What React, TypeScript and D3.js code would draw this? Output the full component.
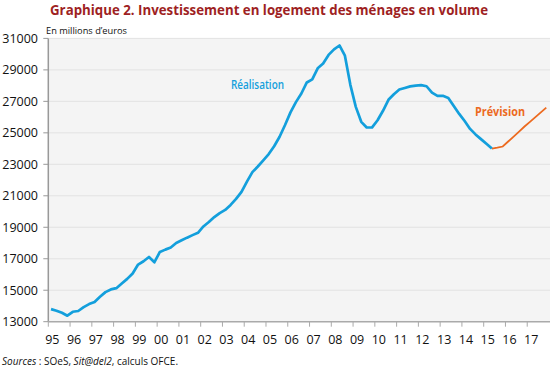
import React, { useEffect, useRef } from 'react';
import * as d3 from 'd3';

// quarterly volumes, millions of euros
const realisation = [
  13800, 13700, 13570, 13380, // 1995
  13630, 13680, 13930, 14120, // 1996
  14250, 14580, 14880, 15050, // 1997
  15130, 15430, 15720, 16060, // 1998
  16630, 16840, 17110, 16780, // 1999
  17430, 17580, 17710, 18000, // 2000
  18170, 18340, 18500, 18650, // 2001
  19050, 19330, 19650, 19900, // 2002
  20100, 20420, 20800, 21250, // 2003
  21900, 22500, 22860, 23250, // 2004
  23650, 24150, 24750, 25500, // 2005
  26300, 26950, 27500, 28200, // 2006
  28400, 29100, 29400, 29950, // 2007
  30300, 30550, 29900, 28050, // 2008
  26650, 25700, 25340, 25350, // 2009
  25800, 26400, 27100, 27450, // 2010
  27750, 27850, 27950, 28000, // 2011
  28030, 27960, 27550, 27350, // 2012
  27350, 27220, 26700, 26200, // 2013
  25750, 25250, 24900, 24600, // 2014
  24300, 24000, // 2015
];
const prevision = [24000, 24060, 24130, 24450, 24760, 25080, 25400, 25700, 26000, 26300, 26600];

const realisationStart = 1995; // Q1 1995
const previsionStart = 2015.25; // Q2 2015
const yearLabels = ['95', '96', '97', '98', '99', '00', '01', '02', '03', '04', '05', '06',
  '07', '08', '09', '10', '11', '12', '13', '14', '15', '16', '17'];
const firstYear = 1995;
const yTicks = [13000, 15000, 17000, 19000, 21000, 23000, 25000, 27000, 29000, 31000];

const FONT = "'Open Sans', 'DejaVu Sans', sans-serif";

const App = () => {
  const ref = useRef<SVGSVGElement | null>(null);

  useEffect(() => {
    const svg = d3.select(ref.current);
    svg.selectAll('*').remove();

    const left = 48.3, right = 549, top = 38.4, bottom = 321.7;
    const x = d3.scaleLinear().domain([1995, 2018]).range([left, right]);
    const y = d3.scaleLinear().domain([13000, 31000]).range([bottom, top]);

    // title
    svg
      .append('text')
      .attr('x', 269)
      .attr('y', 15)
      .attr('text-anchor', 'middle')
      .attr('font-family', FONT)
      .attr('font-weight', 700)
      .attr('font-size', 14)
      .attr('fill', '#9e1f23')
      .attr('textLength', 438)
      .attr('lengthAdjust', 'spacingAndGlyphs')
      .text('Graphique 2. Investissement en logement des ménages en volume');

    svg
      .append('text')
      .attr('x', 46)
      .attr('y', 34)
      .attr('font-family', FONT)
      .attr('font-size', 9.5)
      .attr('fill', '#111')
      .attr('textLength', 81)
      .attr('lengthAdjust', 'spacingAndGlyphs')
      .text('En millions d\u2019euros');

    // plot background
    svg
      .append('rect')
      .attr('x', left)
      .attr('y', top)
      .attr('width', 550 - left)
      .attr('height', bottom - top)
      .attr('fill', '#f4f4f4');

    // grid
    svg
      .append('g')
      .selectAll('line')
      .data(yTicks.slice(1))
      .join('line')
      .attr('x1', left)
      .attr('x2', 550)
      .attr('y1', (d) => y(d))
      .attr('y2', (d) => y(d))
      .attr('stroke', '#e2e2e2')
      .attr('stroke-width', 1);

    // y axis
    const yAxis = svg.append('g');
    yAxis
      .selectAll('line')
      .data(yTicks)
      .join('line')
      .attr('x1', left - 5)
      .attr('x2', left)
      .attr('y1', (d) => y(d))
      .attr('y2', (d) => y(d))
      .attr('stroke', '#999');
    yAxis
      .selectAll('text')
      .data(yTicks)
      .join('text')
      .attr('x', 38)
      .attr('y', (d) => y(d))
      .attr('dy', '0.35em')
      .attr('text-anchor', 'end')
      .attr('font-family', FONT)
      .attr('font-size', 12.5)
      .attr('fill', '#111')
      .text((d) => d);
    svg
      .append('line')
      .attr('x1', left)
      .attr('x2', left)
      .attr('y1', top)
      .attr('y2', bottom)
      .attr('stroke', '#999')
      .attr('stroke-width', 1.5);

    // x axis
    const xAxis = svg.append('g');
    xAxis
      .selectAll('line')
      .data(yearLabels)
      .join('line')
      .attr('x1', (d, i) => x(firstYear + i))
      .attr('x2', (d, i) => x(firstYear + i))
      .attr('y1', bottom)
      .attr('y2', bottom + 5)
      .attr('stroke', '#aaa');
    xAxis
      .selectAll('text')
      .data(yearLabels)
      .join('text')
      .attr('x', (d, i) => x(firstYear + i) + 4)
      .attr('y', 344)
      .attr('text-anchor', 'middle')
      .attr('font-family', FONT)
      .attr('font-size', 12.5)
      .attr('fill', '#111')
      .text((d) => d);
    svg
      .append('line')
      .attr('x1', left)
      .attr('x2', 550)
      .attr('y1', bottom)
      .attr('y2', bottom)
      .attr('stroke', '#aaa')
      .attr('stroke-width', 1.5);

    // lines
    const quarterLine = (start: number) =>
      d3
        .line<number>()
        .x((d, i) => x(start + i / 4 + 0.125))
        .y((d) => y(d));

    svg
      .append('path')
      .datum(prevision)
      .attr('fill', 'none')
      .attr('stroke', '#ec6a1f')
      .attr('stroke-width', 1.8)
      .attr('d', quarterLine(previsionStart));

    svg
      .append('path')
      .datum(realisation)
      .attr('fill', 'none')
      .attr('stroke', '#139fdc')
      .attr('stroke-width', 2.7)
      .attr('stroke-linejoin', 'round')
      .attr('d', quarterLine(realisationStart));

    // labels
    svg
      .append('text')
      .attr('x', 231)
      .attr('y', 89)
      .attr('font-family', FONT)
      .attr('font-weight', 600)
      .attr('font-size', 12)
      .attr('fill', '#139fdc')
      .attr('textLength', 53)
      .attr('lengthAdjust', 'spacingAndGlyphs')
      .text('Réalisation');
    svg
      .append('text')
      .attr('x', 475)
      .attr('y', 115.5)
      .attr('font-family', FONT)
      .attr('font-weight', 700)
      .attr('font-size', 12)
      .attr('fill', '#ec6a1f')
      .attr('textLength', 50)
      .attr('lengthAdjust', 'spacingAndGlyphs')
      .text('Prévision');

    // sources
    const src = svg
      .append('text')
      .attr('x', 2)
      .attr('y', 365)
      .attr('font-family', FONT)
      .attr('font-size', 10)
      .attr('fill', '#111');
    src.append('tspan').attr('font-style', 'italic').text('Sources');
    src.append('tspan').text(' : SOeS, ');
    src.append('tspan').attr('font-style', 'italic').text('Sit@del2');
    src.append('tspan').text(', calculs OFCE.');
  }, []);

  return (
    <div style={{ position: 'absolute', left: 0, top: 0, width: 550, height: 369 }}>
      <svg ref={ref} width={550} height={369} style={{ display: 'block', background: '#fff' }} />
    </div>
  );
};

export default App;
